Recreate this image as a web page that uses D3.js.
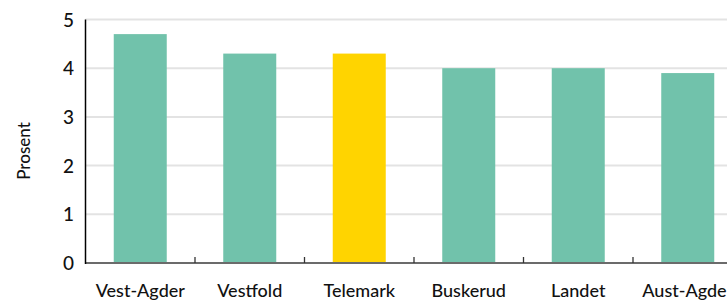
<!DOCTYPE html>
<html><head><meta charset="utf-8">
<script src="https://cdn.jsdelivr.net/npm/d3@7"></script>
<style>html,body{margin:0;padding:0;background:#fff;overflow:hidden}</style>
</head><body>
<svg id="c" width="727" height="300"></svg>
<script>
const categories = ["Vest-Agder","Vestfold","Telemark","Buskerud","Landet","Aust-Agder"];
const values = [4.7, 4.3, 4.3, 4.0, 4.0, 3.9];
const highlight = ["Telemark"];
const yTicks = [0,1,2,3,4,5];
const yLabel = "Prosent";

const svg = d3.select("#c");
const font = "Lato, 'Open Sans', sans-serif";
const x = d3.scaleBand().domain(categories).range([85.5, 85.5 + 6*109.5]).paddingInner(0.516).paddingOuter(0.258);
const y = d3.scaleLinear().domain([0,5]).range([263, 19.5]);

// gridlines
svg.append("g").selectAll("line").data(yTicks.filter(d=>d>0)).join("line")
  .attr("x1",85.5).attr("x2",727).attr("y1",d=>y(d)).attr("y2",d=>y(d))
  .attr("stroke","#e3e3e3").attr("stroke-width",2);

// bars
svg.append("g").selectAll("rect").data(categories).join("rect")
  .attr("x",d=>x(d)).attr("width",x.bandwidth())
  .attr("y",(d,i)=>y(values[i])).attr("height",(d,i)=>y(0)-y(values[i]))
  .attr("fill",d=>highlight.includes(d)?"#ffd400":"#71c2ab");

// x axis baseline
svg.append("line").attr("x1",85.5).attr("x2",727).attr("y1",263).attr("y2",263)
  .attr("stroke","#6b6b6b").attr("stroke-width",2);
// ticks between categories
const step = x.step();
svg.append("g").selectAll("line").data(categories.slice(1)).join("line")
  .attr("x1",d=>x(d)-x.paddingInner()*step/2).attr("x2",d=>x(d)-x.paddingInner()*step/2)
  .attr("y1",257).attr("y2",263).attr("stroke","#333").attr("stroke-width",1.3);
// x labels
svg.append("g").selectAll("text").data(categories).join("text")
  .attr("x",d=>x(d)+x.bandwidth()/2).attr("y",297)
  .attr("text-anchor","middle").attr("font-family",font).attr("font-size",18)
  .attr("font-weight",500).attr("fill","#111").text(d=>d);

// y axis
svg.append("line").attr("x1",85.5).attr("x2",85.5).attr("y1",19.5).attr("y2",264)
  .attr("stroke","#000").attr("stroke-width",1.5);
svg.append("g").selectAll("text").data(yTicks).join("text")
  .attr("x",74).attr("y",d=>y(d)+7).attr("text-anchor","end")
  .attr("font-family",font).attr("font-size",19).attr("font-weight",500)
  .attr("fill","#111").text(d=>d);
svg.append("text").attr("transform","translate(30,151) rotate(-90)")
  .attr("text-anchor","middle").attr("font-family",font).attr("font-size",17)
  .attr("font-weight",500).attr("fill","#111").text(yLabel);
</script>
</body></html>
